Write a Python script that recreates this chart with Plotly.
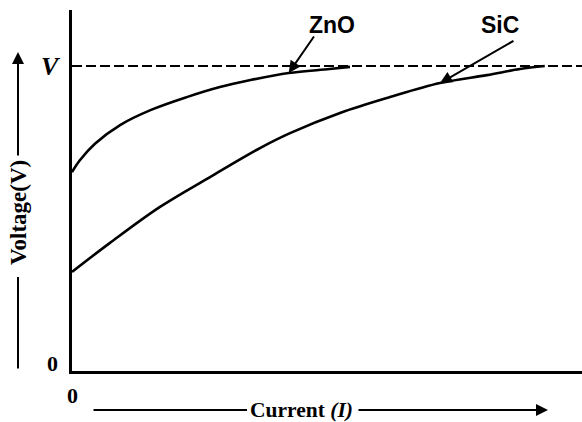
import plotly.graph_objects as go

# V-I characteristics of ZnO and SiC surge arresters (normalised to the rated voltage V)
current_zno = [0.0, 0.15, 0.45, 0.95, 1.55, 2.25, 2.9, 3.5, 4.25, 5.05, 5.45]
voltage_zno = [0.652, 0.69, 0.745, 0.807, 0.856, 0.898, 0.931, 0.954, 0.977, 0.990, 0.997]

current_sic = [0.0, 0.745, 1.725, 2.706, 3.686, 4.275, 5.255, 6.235, 7.216, 8.137, 8.784, 9.27]
voltage_sic = [0.325, 0.420, 0.538, 0.636, 0.731, 0.780, 0.846, 0.898, 0.944, 0.970, 0.990, 1.0]

rated_voltage = 1.0
current_span = [0.0, 10.0]

W, H = 582, 422
X_RANGE = [0, 10]
Y_RANGE = [0, 1.1836]
PLOT_L, PLOT_T, PLOT_B = 72, 10, 371

def px(x):
    return x / W

def py(y):
    return 1 - y / H

def data_to_pixel(x, y):
    hx = PLOT_L + (W - PLOT_L) * (x - X_RANGE[0]) / (X_RANGE[1] - X_RANGE[0])
    hy = PLOT_B - (PLOT_B - PLOT_T) * (y - Y_RANGE[0]) / (Y_RANGE[1] - Y_RANGE[0])
    return hx, hy

SERIF = "Liberation Serif"
SANS = "Liberation Sans"

fig = go.Figure()

fig.add_trace(go.Scatter(
    x=current_span, y=[rated_voltage, rated_voltage], mode="lines",
    line=dict(color="black", width=2, dash="10px,4px"), hoverinfo="skip"))
fig.add_trace(go.Scatter(
    x=current_zno, y=voltage_zno, mode="lines", line_shape="spline",
    line=dict(color="black", width=2.6), name="ZnO"))
fig.add_trace(go.Scatter(
    x=current_sic, y=voltage_sic, mode="lines", line_shape="spline",
    line=dict(color="black", width=2.6), name="SiC"))

axis_common = dict(showgrid=False, zeroline=False, showticklabels=False,
                   ticks="", showline=True, linecolor="black", linewidth=2.5)
fig.update_layout(
    width=W, height=H, showlegend=False,
    margin=dict(l=0, r=0, t=0, b=0),
    paper_bgcolor="white", plot_bgcolor="white",
    xaxis=dict(range=X_RANGE, domain=[PLOT_L / W, 1], **axis_common),
    yaxis=dict(range=Y_RANGE, domain=[py(PLOT_B), py(PLOT_T)], **axis_common),
)


def label(x, y, text, size, family=SERIF, xref="paper", yref="paper", **kw):
    return dict(x=x, y=y, xref=xref, yref=yref, text=text, showarrow=False,
                xanchor="center", yanchor="middle",
                font=dict(family=family, size=size, color="black"), **kw)


def pixel_arrow(head, tail, head_style=2):
    return dict(x=px(head[0]), y=py(head[1]), xref="paper", yref="paper",
                ax=tail[0] - head[0], ay=tail[1] - head[1], axref="pixel", ayref="pixel",
                text="", showarrow=True, arrowhead=head_style, arrowsize=1.2,
                arrowwidth=2, arrowcolor="black", standoff=0)


def data_arrow(x, y, tail):
    hx, hy = data_to_pixel(x, y)
    return dict(x=x, y=y, xref="x", yref="y",
                ax=tail[0] - hx, ay=tail[1] - hy, axref="pixel", ayref="pixel",
                text="", showarrow=True, arrowhead=2, arrowsize=1.2,
                arrowwidth=2, arrowcolor="black", standoff=0)


ann = []
# tick labels
ann.append(label(px(52), 0, "<b>0</b>", 22, yref="y", yshift=8))
ann.append(label(0, py(395), "<b>0</b>", 22, xref="x"))
ann.append(label(px(51), rated_voltage, "<b><i>V</i></b>", 26, yref="y"))

# axis titles with direction arrows
ann.append(label(px(18), py(213), "<b>Voltage(V)</b>", 23, textangle=-90))
ann.append(pixel_arrow((18, 52), (18, 157)))
ann.append(pixel_arrow((18, 277), (18, 370), head_style=0))

ann.append(label(px(301), py(410), "<b>Current <i>(I)</i></b>", 21.5))
ann.append(pixel_arrow((247, 410), (92, 410), head_style=0))
ann.append(pixel_arrow((548, 410), (357, 410)))

# curve labels with pointers
ann.append(label(px(332), py(25), "<b>ZnO</b>", 23, family=SANS))
ann.append(data_arrow(current_zno[8], voltage_zno[8], (315, 35)))
ann.append(label(px(500), py(25), "<b>SiC</b>", 23, family=SANS))
ann.append(data_arrow(current_sic[8], voltage_sic[8], (515, 40)))

fig.update_layout(annotations=ann)
fig.write_html("out.html")
